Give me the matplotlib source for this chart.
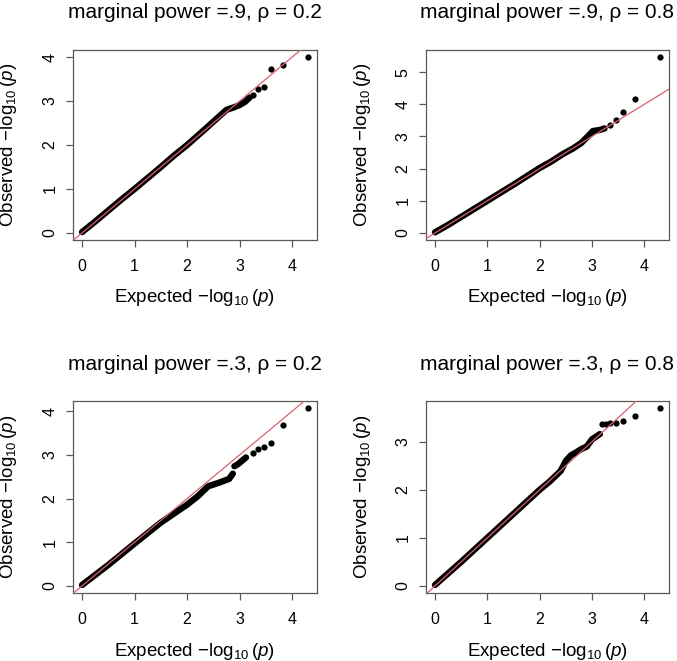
import numpy as np
import matplotlib
matplotlib.use('Agg')
import matplotlib.pyplot as plt

plt.rcParams['font.family'] = ['Liberation Sans', 'DejaVu Sans']
plt.rcParams['mathtext.fontset'] = 'custom'
plt.rcParams['mathtext.rm'] = 'Liberation Sans'
plt.rcParams['mathtext.it'] = 'Liberation Sans:italic'

nan = float('nan')

# panel titles
titles = ['marginal power =.9, \u03c1 = 0.2', 'marginal power =.9, \u03c1 = 0.8',
          'marginal power =.3, \u03c1 = 0.2', 'marginal power =.3, \u03c1 = 0.8']

# dense part of each QQ cloud (expected, observed)
band_x = [
    [0.0, 0.25, 0.5, 0.75, 1.0, 1.25, 1.5, 1.75, 2.0, 2.36, 2.6, 2.75, 2.9, 3.0, 3.1, 3.19],
    [0.0, 0.25, 0.5, 0.75, 1.0, 1.5, 2.0, 2.2, 2.44, 2.64, 2.79, 2.92, 3.02, 3.14, 3.24],
    [0.0, 0.5, 1.0, 1.5, 2.0, 2.2, 2.4, 2.6, 2.8, 2.87, nan, 2.90, 2.96, 3.12],
    [0.0, 0.5, 1.0, 1.5, 2.0, 2.2, 2.4, 2.5, 2.6, 2.7, 2.8, 2.9, 3.0, 3.15],
]
band_y = [
    [0.02, 0.26, 0.51, 0.76, 1.0, 1.25, 1.5, 1.76, 2.0, 2.38, 2.64, 2.80, 2.86, 2.91, 2.98, 3.08],
    [0.02, 0.25, 0.5, 0.75, 1.0, 1.5, 2.02, 2.2, 2.45, 2.63, 2.79, 3.0, 3.17, 3.2, 3.25],
    [0.02, 0.48, 0.97, 1.45, 1.86, 2.05, 2.28, 2.36, 2.45, 2.57, nan, 2.74, 2.78, 2.94],
    [0.02, 0.5, 1.0, 1.5, 2.0, 2.18, 2.39, 2.6, 2.72, 2.78, 2.85, 2.90, 3.05, 3.16],
]

# separate top-ranked points
tail_x = [
    [4.30, 3.82, 3.60, 3.46, 3.35, 3.26],
    [4.30, 3.82, 3.60, 3.46, 3.35],
    [4.30, 3.82, 3.60, 3.46, 3.35, 3.26],
    [4.30, 3.82, 3.60, 3.46, 3.35, 3.26, 3.19],
]
tail_y = [
    [4.00, 3.83, 3.73, 3.33, 3.28, 3.14],
    [5.47, 4.17, 3.76, 3.50, 3.37],
    [4.07, 3.69, 3.28, 3.18, 3.14, 3.05],
    [3.70, 3.53, 3.44, 3.40, 3.38, 3.37, 3.36],
]

x_ticks = [0, 1, 2, 3, 4]
y_ticks = [[0, 1, 2, 3, 4], [0, 1, 2, 3, 4, 5], [0, 1, 2, 3, 4], [0, 1, 2, 3]]

W, H = 677, 661
fig = plt.figure(figsize=(W / 100, H / 100), dpi=100)

# axes boxes in pixels: left, right, top, bottom
boxes = [(73, 317, 50, 240), (426, 669, 50, 240),
         (73, 317, 401, 593), (426, 669, 401, 593)]
ylab_x = [9, 362, 9, 362]   # pixel centre of the y label

box_col = '#5a5a5a'
for i, (l, r, t, b) in enumerate(boxes):
    ax = fig.add_axes([l / W, 1 - b / H, (r - l) / W, (b - t) / H])
    ax.plot(band_x[i], band_y[i], color='black', lw=4.6,
            solid_capstyle='round', solid_joinstyle='round', zorder=2)
    ax.plot(tail_x[i], tail_y[i], 'o', color='black', ms=4.5, mew=0, zorder=2)
    ax.axline((0, 0), slope=1, color='#d9606c', lw=0.9, zorder=3)
    ax.margins(x=0.04, y=0.04)
    ax.set_xticks(x_ticks)
    ax.set_yticks(y_ticks[i])
    for s in ax.spines.values():
        s.set_color(box_col)
        s.set_linewidth(0.9)
    ax.tick_params(axis='both', direction='out', length=5, width=0.9,
                   color=box_col, labelsize=11.5)
    ax.tick_params(axis='x', pad=9)
    ax.tick_params(axis='y', labelrotation=90, pad=6)
    for lab in ax.get_yticklabels():
        lab.set_va('center')
    ax.set_xlabel(r'Expected $-\log_{10}(\mathit{p})$', fontsize=13.5)
    ax.set_ylabel(r'Observed $-\log_{10}(\mathit{p})$', fontsize=13.5)
    ax.xaxis.label.set_va('center')
    ax.yaxis.label.set_va('center')
    ax.xaxis.set_label_coords(0.5, -58 / (b - t))
    ax.yaxis.set_label_coords(-(l - ylab_x[i]) / (r - l), 0.5)
    fig.text((l + r) / 2 / W, 1 - (t - 37) / H, titles[i], ha='center', va='center',
             fontsize=15)

fig.savefig('out.png', dpi=100)
